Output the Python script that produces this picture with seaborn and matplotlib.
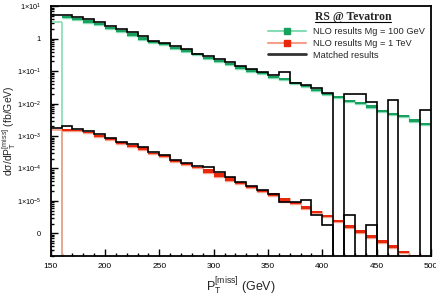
import matplotlib
matplotlib.use("Agg")
import matplotlib.pyplot as plt
import numpy as np
import seaborn as sns
from matplotlib.lines import Line2D
from matplotlib.ticker import FixedLocator, FixedFormatter, MultipleLocator, LogLocator, NullFormatter
from matplotlib.transforms import IdentityTransform

# ---- data ----
edges = np.arange(150, 501, 10)          # 35 bins of 10 GeV

# first bin (150-160) NLO line, then bands from 160 to 500
nlo100_first = 3.25
nlo1tev_first = 1.54e-3

nlo100_hi = [4.99, 4.42, 3.75, 3.10, 2.33, 1.88, 1.52, 1.12, 0.88, 0.731, 0.574, 0.478,
             0.375, 0.282, 0.228, 0.177, 0.146, 0.115, 0.0931, 0.0716, 0.0608, 0.0457,
             0.0378, 0.0290, 0.0209, 0.0167, 0.0130, 0.0109, 0.0091, 0.0064, 0.00527,
             0.00448, 0.0033, 0.00259]
nlo100_lo = [4.42, 3.92, 3.10, 2.63, 2.02, 1.60, 1.23, 0.944, 0.764, 0.634, 0.488, 0.386,
             0.312, 0.240, 0.190, 0.153, 0.120, 0.0973, 0.0807, 0.0608, 0.0538, 0.0397,
             0.0335, 0.0252, 0.0182, 0.0145, 0.01153, 0.0098, 0.0074, 0.00566, 0.00448,
             0.0038, 0.00278, 0.0022]

nlo1tev_hi = [1.62e-3, 1.54e-3, 1.37e-3, 1.08e-3, 8.55e-4, 6.44e-4, 5.20e-4, 4.51e-4,
              3.08e-4, 2.55e-4, 1.79e-4, 1.45e-4, 1.14e-4, 9.66e-5, 7.11e-5, 5.35e-5,
              3.75e-5, 2.88e-5, 2.17e-5, 1.72e-5, 1.20e-5, 9.44e-6, 6.97e-6, 4.88e-6,
              3.67e-6, 2.57e-6, 1.80e-6, 1.26e-6, 8.87e-7, 6.21e-7, 4.36e-7, 2.90e-7,
              2.14e-7, 1.6e-7]
nlo1tev_lo = [1.44e-3, 1.41e-3, 1.22e-3, 9.58e-4, 7.58e-4, 5.70e-4, 4.71e-4, 3.72e-4,
              2.74e-4, 2.26e-4, 1.62e-4, 1.28e-4, 1.01e-4, 7.11e-5, 5.58e-5, 4.20e-5,
              3.32e-5, 2.45e-5, 1.84e-5, 1.42e-5, 9.44e-6, 7.74e-6, 5.74e-6, 4.14e-6,
              3.12e-6, 2.19e-6, 1.46e-6, 1.04e-6, 7.31e-7, 5.13e-7, 3.60e-7, 2.42e-7,
              1.86e-7, 1.3e-7]

matched100 = [5.47, 5.47, 4.74, 4.03, 3.32, 2.45, 2.02, 1.63, 1.23, 0.88, 0.747, 0.617,
              0.488, 0.342, 0.297, 0.234, 0.190, 0.149, 0.118, 0.0931, 0.0769, 0.0973,
              0.0445, 0.0378, 0.0299, 0.0219, 0, 0.0204, 0.0204, 0.01153, 0, 0.0130,
              0, 0, 0.0064]
matched1tev = [1.82e-3, 2.09e-3, 1.66e-3, 1.44e-3, 1.16e-3, 8.55e-4, 6.71e-4, 5.58e-4,
               4.71e-4, 3.16e-4, 2.67e-4, 1.83e-4, 1.45e-4, 1.15e-4, 1.14e-4, 7.96e-5,
               5.58e-5, 3.75e-5, 2.94e-5, 2.17e-5, 1.61e-5, 9.25e-6, 9.25e-6, 1.10e-5,
               3.67e-6, 1.80e-6, 0, 3.67e-6, 0, 1.80e-6, 0, 0, 0, 0, 0]

ytick_vals = [1e1, 1, 1e-1, 1e-2, 1e-3, 1e-4, 1e-5, 1e-6]
ytick_text = ["1×10$^{1}$", "1", "1×10$^{-1}$", "1×10$^{-2}$", "1×10$^{-3}$",
              "1×10$^{-4}$", "1×10$^{-5}$", "0"]

GREEN, GREEN_LT = "#17a05e", "#86dcb4"
RED, RED_LT = "#e8280a", "#f5a08c"
YMIN, YMAX = 10 ** -6.7, 10 ** 1.02
FLOOR = 1e-9   # empty bins drop below the frame

sns.set_style("ticks")
plt.rcParams["font.family"] = ["Liberation Sans", "DejaVu Sans"]
plt.rcParams["mathtext.default"] = "regular"

fig = plt.figure(figsize=(4.36, 3.08), dpi=100)
ax = fig.add_axes([0.1163, 0.1688, 0.8722, 0.8127])
ax.set_yscale("log")

band_edges = edges[1:]
for hi, lo, first, dark, light in [(nlo100_hi, nlo100_lo, nlo100_first, GREEN, GREEN_LT),
                                   (nlo1tev_hi, nlo1tev_lo, nlo1tev_first, RED, RED_LT)]:
    ax.stairs(hi, band_edges, baseline=lo, fill=True, color=dark, lw=0, zorder=2)
    ax.stairs(lo, band_edges, baseline=None, color=light, lw=1.0, zorder=1)
    ax.stairs(hi, band_edges, baseline=None, color=light, lw=0.6, zorder=1)
    ax.stairs([first], edges[:2], baseline=None, color=light, lw=1.2, zorder=1)
    ax.vlines(edges[1], YMIN, first, color=light, lw=1.2, zorder=1)

for vals in (matched100, matched1tev):
    v = np.asarray(vals, dtype=float)
    ax.stairs(np.where(v > 0, v, FLOOR), edges, baseline=None, color="black", lw=1.2, zorder=3)

ax.set_xlim(150, 500)
ax.set_ylim(YMIN, YMAX)
ax.xaxis.set_major_locator(MultipleLocator(50))
ax.xaxis.set_minor_locator(MultipleLocator(10))
ax.yaxis.set_major_locator(FixedLocator(ytick_vals))
ax.yaxis.set_major_formatter(FixedFormatter(ytick_text))
ax.yaxis.set_minor_locator(LogLocator(base=10, subs=np.arange(2, 10)))
ax.yaxis.set_minor_formatter(NullFormatter())

ax.tick_params(which="both", direction="in", top=False, right=False, width=1.0, colors="black")
ax.tick_params(which="major", length=5)
ax.tick_params(which="minor", length=2.5)
ax.tick_params(axis="y", pad=7, labelsize=5.3)
ax.tick_params(axis="x", pad=5, labelsize=6)
for s in ax.spines.values():
    s.set_linewidth(1.3)
    s.set_color("black")

ax.set_xlabel("P$_T^{[miss]}$ (GeV)", fontsize=9, labelpad=4)
ax.set_ylabel("dσ/dP$_T^{[miss]}$ (fb/GeV)", fontsize=7.5)
ax.yaxis.set_label_coords(-0.085, 0.5)

handles = [
    Line2D([], [], color=GREEN_LT, lw=1.5, marker="s", markersize=4.5, markerfacecolor=GREEN, markeredgecolor=GREEN),
    Line2D([], [], color=RED_LT, lw=1.5, marker="s", markersize=4.5, markerfacecolor=RED, markeredgecolor=RED),
    Line2D([], [], color="#333333", lw=2),
]
labels = ["NLO results Mg = 100 GeV", "NLO results Mg = 1 TeV", "Matched results"]
ax.legend(handles, labels, loc="upper left", bbox_to_anchor=(0.572, 0.915), frameon=False,
          fontsize=6.7, handlelength=4.1, handletextpad=0.75, labelspacing=0.3,
          borderpad=0, borderaxespad=0)

title = ax.text(0.795, 0.956, "RS @ Tevatron", transform=ax.transAxes, ha="center", va="center",
                fontsize=8.5, fontweight="bold", family=["Liberation Serif", "DejaVu Serif"])
fig.canvas.draw()
bb = title.get_window_extent(fig.canvas.get_renderer())
fig.add_artist(Line2D([bb.x0, bb.x1], [bb.y0 + 0.5, bb.y0 + 0.5], color="black", lw=0.8,
                      transform=IdentityTransform()))

fig.savefig("out.png", dpi=100)
